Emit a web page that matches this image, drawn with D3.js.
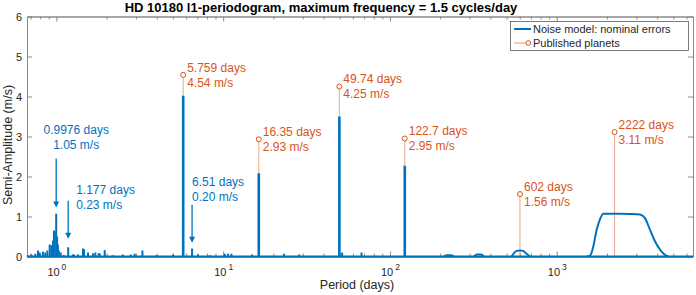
<!DOCTYPE html>
<html lang="en">
<head>
<meta charset="UTF-8">
<title>HD 10180 periodogram</title>
<style>
    body { margin: 0; background: #fff; }
    text { font-family: "Liberation Sans", Arial, sans-serif; }
    .axis path, .axis line { stroke: #8a8a8a; }
    .axis text { fill: #262626; font-size: 11px; }
</style>
</head>
<body>
<svg id="svg" width="696" height="295"></svg>
<script src="https://cdnjs.cloudflare.com/ajax/libs/d3/7.8.5/d3.min.js"></script>
<script>
    // narrow peaks of the l1-periodogram (period in days, semi-amplitude m/s)
    const spikePeriods = [0.673, 0.708, 0.748, 0.776, 0.794, 0.831, 0.859, 0.883, 0.912, 0.933, 0.946,
        0.955, 0.967, 0.978, 0.9976, 1.01, 1.022, 1.035, 1.061, 1.106, 1.177, 1.258, 1.275, 1.348, 1.444,
        1.464, 1.547, 1.658, 1.714, 1.794, 1.818, 1.949, 2.185, 2.499, 2.791, 2.950, 3.281, 3.98, 5.006,
        5.759, 6.51, 7.07, 8.31, 10.22, 10.70, 11.21, 14.91, 16.35, 23.19, 28.53, 49.74, 51.67, 67.54, 122.7];
    const spikeAmps = [0.03, 0.05, 0.07, 0.15, 0.10, 0.12, 0.10, 0.15, 0.30, 0.28, 0.22,
        0.40, 0.65, 0.62, 1.07, 0.50, 0.30, 0.15, 0.10, 0.04, 0.23, 0.05, 0.05, 0.05, 0.20,
        0.18, 0.10, 0.08, 0.10, 0.08, 0.08, 0.16, 0.03, 0.05, 0.05, 0.07, 0.15, 0.03, 0.05,
        4.02, 0.20, 0.05, 0.03, 0.07, 0.07, 0.07, 0.05, 2.08, 0.07, 0.05, 3.50, 0.10, 0.10, 2.27];

    // broad features (long periods)
    const bumpPeriods = [
        [210.6, 219.4, 231.9, 241.6],
        [318.9, 332.4, 351.2, 366],
        [536, 553, 575, 601.6, 629.6, 653.6, 690.8],
        [1511, 1582, 1656, 1735, 1816, 1901, 2394, 2748, 3155, 3381, 3622, 3881, 4159, 4456, 4667]
    ];
    const bumpAmps = [
        [0, 0.03, 0.03, 0],
        [0, 0.05, 0.05, 0],
        [0, 0.08, 0.14, 0.15, 0.14, 0.08, 0],
        [0, 0.02, 0.25, 0.67, 0.93, 1.07, 1.07, 1.065, 1.05, 0.96, 0.67, 0.38, 0.17, 0.04, 0]
    ];

    // published planets
    const planetPeriods = [5.759, 16.35, 49.74, 122.7, 602, 2222];
    const planetAmps = [4.54, 2.93, 4.25, 2.95, 1.56, 3.11];

    // marked peaks (arrows)
    const markPeriods = [0.9976, 1.177, 6.51];
    const markAmps = [1.05, 0.23, 0.20];
    const markLabels = [["0.9976 days", "1.05 m/s"], ["1.177 days", "0.23 m/s"], ["6.51 days", "0.20 m/s"]];

    const majorTicks = [1, 10, 100, 1000];
    const yTicks = [0, 1, 2, 3, 4, 5, 6];

    const blue = "#0072BD", orange = "#D95319";
    const mLeft = 27, mRight = 693, mTop = 16.5, mBottom = 256.5;

    const svg = d3.select("#svg");

    const x = d3.scaleLog().domain([1 / 1.5, 6560]).range([mLeft, mRight]);
    const y = d3.scaleLinear().domain([0, 6]).range([mBottom, mTop]);

    // minor ticks of the log axis
    var minorTicks = [];
    [0.1, 1, 10, 100, 1000].forEach(function(dec) {
        for (var k = 2; k <= 9; k++) {
            var v = dec * k;
            if (v > x.domain()[0] && v < x.domain()[1] && majorTicks.indexOf(v) < 0) minorTicks.push(v);
        }
    });

    svg.append("g").attr("class", "axis").attr("transform", "translate(0," + mBottom + ")")
        .call(d3.axisBottom(x).tickValues(minorTicks).tickSize(-3).tickSizeOuter(0).tickFormat(""));
    svg.append("g").attr("class", "axis").attr("transform", "translate(0," + mTop + ")")
        .call(d3.axisTop(x).tickValues(minorTicks).tickSize(-3).tickSizeOuter(0).tickFormat(""));
    svg.append("g").attr("class", "axis").attr("transform", "translate(0," + mTop + ")")
        .call(d3.axisTop(x).tickValues(majorTicks).tickSize(-5).tickSizeOuter(0).tickFormat(""));

    const xAxis = svg.append("g").attr("class", "axis").attr("transform", "translate(0," + mBottom + ")")
        .call(d3.axisBottom(x).tickValues(majorTicks).tickSize(-5).tickSizeOuter(0).tickPadding(9));
    xAxis.selectAll(".tick text").each(function(d) {
        var t = d3.select(this).text("").attr("dy", null).attr("y", 19).attr("text-anchor", "middle");
        t.append("tspan").text("10");
        t.append("tspan").attr("dx", 2).attr("dy", -6).style("font-size", "8.5px").text(Math.round(Math.log10(d)));
    });

    svg.append("g").attr("class", "axis").attr("transform", "translate(" + mLeft + ",0)")
        .call(d3.axisLeft(y).tickValues(yTicks).tickSize(-5).tickSizeOuter(0).tickPadding(5).tickFormat(d3.format("d")));
    svg.append("g").attr("class", "axis").attr("transform", "translate(" + mRight + ",0)")
        .call(d3.axisRight(y).tickValues(yTicks).tickSize(-5).tickSizeOuter(0).tickFormat(""));

    svg.selectAll(".axis .domain").attr("stroke", "#8a8a8a");

    // planet stems (behind the periodogram)
    const stems = svg.append("g");
    planetPeriods.forEach(function(p, i) {
        stems.append("line")
            .attr("x1", x(p)).attr("x2", x(p))
            .attr("y1", y(0)).attr("y2", y(planetAmps[i]) + 2.5)
            .attr("stroke", orange).attr("stroke-opacity", 0.5).attr("stroke-width", 1);
        stems.append("circle")
            .attr("cx", x(p)).attr("cy", y(planetAmps[i])).attr("r", 2.5)
            .attr("fill", "none").attr("stroke", orange).attr("stroke-width", 1);
        var t = stems.append("text").attr("fill", orange).style("font-size", "12px");
        t.append("tspan").attr("x", x(p) + 4).attr("y", y(planetAmps[i]) - 3.2).text(p + " days");
        t.append("tspan").attr("x", x(p) + 4).attr("y", y(planetAmps[i]) + 11.8).text(planetAmps[i].toFixed(2) + " m/s");
    });

    // periodogram
    const pg = svg.append("g").attr("stroke", blue).attr("fill", "none").attr("stroke-width", 2);
    pg.append("line").attr("x1", mLeft).attr("x2", mRight).attr("y1", y(0)).attr("y2", y(0));
    spikePeriods.forEach(function(p, i) {
        pg.append("line")
            .attr("x1", x(p)).attr("x2", x(p))
            .attr("y1", y(0)).attr("y2", y(spikeAmps[i]))
            .attr("stroke-width", spikeAmps[i] > 2 ? 2.6 : 2);
    });
    const line = d3.line().x(function(d) { return x(d[0]); }).y(function(d) { return y(d[1]); })
        .curve(d3.curveMonotoneX);
    bumpPeriods.forEach(function(ps, j) {
        pg.append("path").attr("d", line(ps.map(function(p, i) { return [p, bumpAmps[j][i]]; })));
    });

    // arrows to the marked peaks
    const markLayout = [
        {gap: 7, len: 49, tx: 20, ty: -25, anchor: "middle"},
        {gap: 8.5, len: 38, tx: 8, ty: -6.7, anchor: "start"},
        {gap: 5.7, len: 38, tx: 0, ty: -18.7, anchor: "start"}
    ];
    const marks = svg.append("g").attr("fill", blue);
    markPeriods.forEach(function(p, i) {
        var L = markLayout[i];
        var tip = y(markAmps[i]) - L.gap, tail = tip - L.len, px = x(p);
        marks.append("line").attr("x1", px).attr("x2", px).attr("y1", tail).attr("y2", tip - 5)
            .attr("stroke", blue).attr("stroke-width", 1.3);
        marks.append("path").attr("d", "M" + (px - 3) + "," + (tip - 6) + "L" + (px + 3) + "," + (tip - 6) + "L" + px + "," + tip + "Z");
        var t = marks.append("text").style("font-size", "12px").attr("text-anchor", L.anchor);
        t.append("tspan").attr("x", px + L.tx).attr("y", tail + L.ty).text(markLabels[i][0]);
        t.append("tspan").attr("x", px + L.tx).attr("y", tail + L.ty + 15).text(markLabels[i][1]);
    });

    // legend
    const lg = svg.append("g");
    lg.append("rect").attr("x", 510.5).attr("y", 21.5).attr("width", 178).attr("height", 29)
        .attr("fill", "#fff").attr("stroke", "#5a5a5a").attr("stroke-width", 0.8);
    lg.append("line").attr("x1", 514).attr("x2", 531).attr("y1", 29).attr("y2", 29)
        .attr("stroke", blue).attr("stroke-width", 2);
    lg.append("line").attr("x1", 514).attr("x2", 526).attr("y1", 43).attr("y2", 43)
        .attr("stroke", orange).attr("stroke-opacity", 0.6);
    lg.append("circle").attr("cx", 528.3).attr("cy", 43).attr("r", 2.3)
        .attr("fill", "none").attr("stroke", orange);
    lg.append("text").attr("x", 533).attr("y", 33).style("font-size", "11px").attr("fill", "#262626")
        .text("Noise model: nominal errors");
    lg.append("text").attr("x", 533).attr("y", 47).style("font-size", "11px").attr("fill", "#262626")
        .text("Published planets");

    // title and axis labels
    svg.append("text").attr("x", 321).attr("y", 12).attr("text-anchor", "middle")
        .style("font-size", "13px").style("font-weight", "bold").attr("fill", "#000")
        .text("HD 10180 l1-periodogram, maximum frequency = 1.5 cycles/day");
    svg.append("text").attr("x", 357).attr("y", 289).attr("text-anchor", "middle")
        .style("font-size", "12.5px").attr("fill", "#262626").text("Period (days)");
    svg.append("text").attr("transform", "translate(12,145) rotate(-90)")
        .attr("text-anchor", "middle").style("font-size", "12.5px").attr("fill", "#262626")
        .text("Semi-Amplitude (m/s)");
</script>
</body>
</html>
